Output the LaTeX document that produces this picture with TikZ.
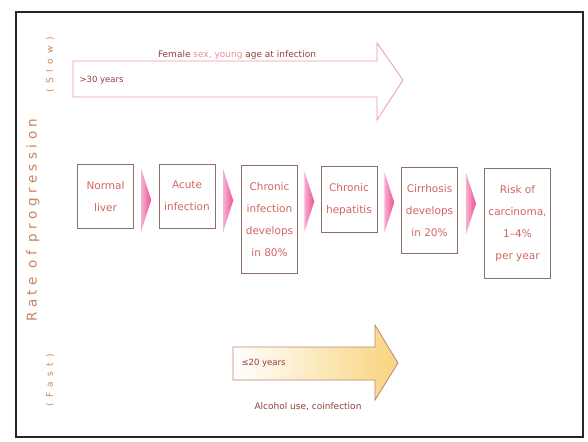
\documentclass[tikz,border=0pt]{standalone}
\usepackage{fontspec}
\setmainfont{DejaVu Sans}
\newfontfamily\ratefont[LetterSpace=33]{DejaVu Sans}
\newfontfamily\speedfont[LetterSpace=60]{DejaVu Sans}
\usepackage{xcolor}
\usetikzlibrary{calc}
\definecolor{boxtext}{RGB}{210,100,95}
\definecolor{boxline}{RGB}{140,110,110}
\definecolor{chevpink}{RGB}{238,80,150}
\definecolor{slowline}{RGB}{240,150,170}
\definecolor{fastline}{RGB}{190,130,120}
\definecolor{fastfill}{RGB}{248,212,125}
\definecolor{labelred}{RGB}{150,60,60}
\definecolor{labelpink}{RGB}{240,140,150}
\definecolor{axisbrown}{RGB}{200,130,90}
\tikzset{
    stage/.style={draw=boxline, line width=0.6pt, text=boxtext, align=center,
        minimum width=56pt, inner xsep=4pt, inner ysep=17pt, anchor=north,
        font=\fontsize{10.5}{22}\selectfont},
    chev/.style={left color=chevpink!45, right color=chevpink},
    note/.style={text=labelred, font=\fontsize{9}{11}\selectfont}
}
\begin{document}
\begin{tikzpicture}[x=1pt, y=-1pt]
    \useasboundingbox (0,0) rectangle (588,441);
    \draw[line width=1.8pt, black!85] (16,12) rectangle (583,437);
    \node[rotate=90, text=axisbrown, font=\speedfont\fontsize{9}{11}\selectfont] (slow) at (50,65) {(Slow)};
    \node[rotate=90, text=axisbrown, font=\ratefont\fontsize{13.5}{15}\selectfont] (rate) at (33,220) {Rate of progression};
    \node[rotate=90, text=axisbrown, font=\speedfont\fontsize{9}{11}\selectfont] (fast) at (50,380) {(Fast)};
    \draw[slowline, line width=0.8pt, fill=white]
        (73,61) -- (377,61) -- (377,43) -- (403,80) -- (377,120) -- (377,97) -- (73,97) -- cycle;
    \node[note] (female) at (237,55) {Female \textcolor{labelpink}{sex, young} age at infection};
    \node[note, anchor=west, font=\fontsize{8.5}{10}\selectfont] (slowyears) at (76,80) {>30 years};
    \draw[fastline, line width=0.8pt, left color=white, right color=fastfill]
        (233,347) -- (375,347) -- (375,325) -- (398,363) -- (375,400) -- (375,380) -- (233,380) -- cycle;
    \node[note, anchor=west, font=\fontsize{8.5}{10}\selectfont] (fastyears) at (238,363) {≤20 years};
    \node[note] (alcohol) at (308,407) {Alcohol use, coinfection};
    \node[stage] (b1) at (105.5,164) {Normal\\liver};
    \node[stage] (b2) at (187,164) {Acute\\infection};
    \node[stage] (b3) at (269.5,165) {Chronic\\infection\\develops\\in 80\%};
    \node[stage] (b4) at (349,166) {Chronic\\hepatitis};
    \node[stage] (b5) at (429.5,167) {Cirrhosis\\develops\\in 20\%};
    \node[stage] (b6) at (517.5,168) {Risk of\\carcinoma,\\1--4\%\\per year};
    \foreach \a/\b in {b1/b2, b2/b3, b3/b4, b4/b5, b5/b6}
        \path[chev] ($(\a.north east)!.5!(\b.north west)$) ++(-5,5) -- ++(10,31) -- ++(-10,31) -- cycle;
\end{tikzpicture}
\end{document}
